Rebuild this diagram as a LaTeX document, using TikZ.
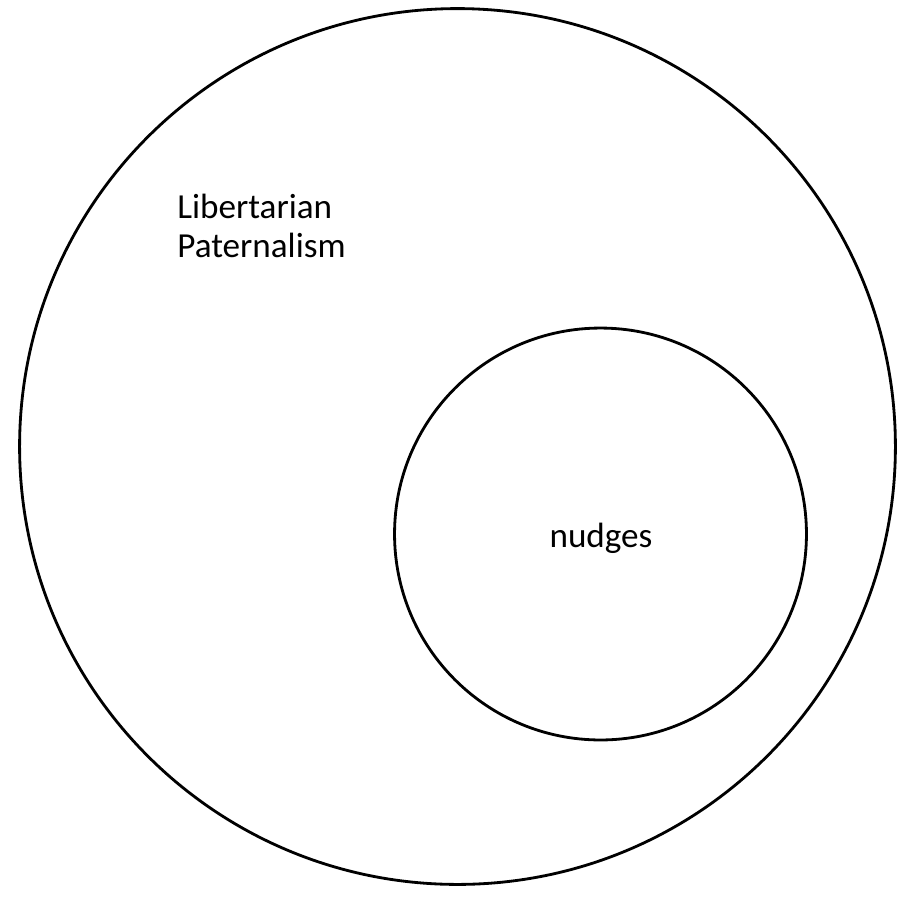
\documentclass[tikz,border=0pt]{standalone}
\usepackage{fontspec}
\setmainfont{Carlito}
\usetikzlibrary{positioning}

\begin{document}
\begin{tikzpicture}[x=0.02cm, y=-0.02cm]
\tikzstyle{ring}=[draw, circle, line width=1.6pt, inner sep=0pt]
\tikzstyle{lbl}=[inner sep=0pt, align=left, font=\fontsize{20}{21.8}\selectfont]
\useasboundingbox (0,0) rectangle (913,897);
\node[ring, minimum size=17.52cm] (lp) at (457.5,446.5) {};
\node[ring, minimum size=8.24cm] (nu) at (600.5,534) {};
\node[lbl, anchor=base west] (lpt) at (177,257) {Libertarian\\Paternalism};
\node[lbl, anchor=base] (nut) at (601,547) {nudges};
\end{tikzpicture}
\end{document}
